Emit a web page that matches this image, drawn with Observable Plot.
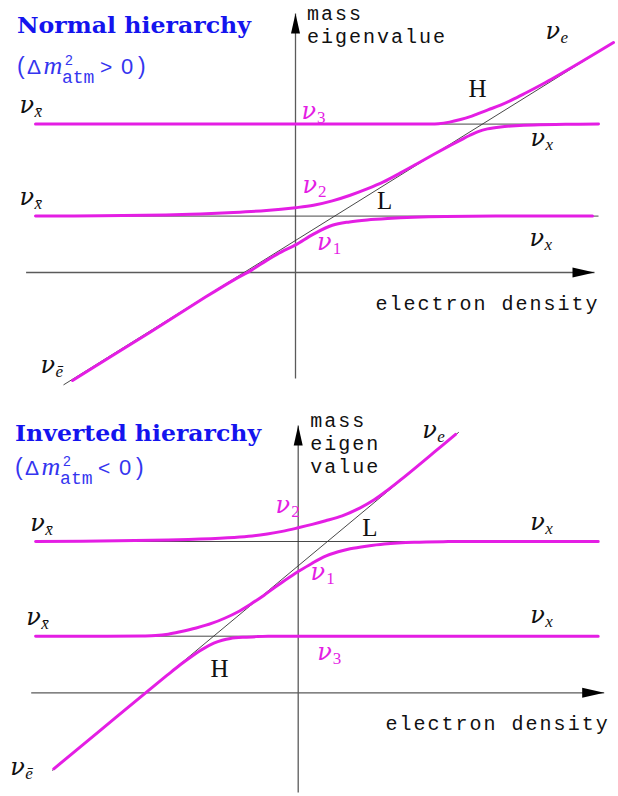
<!DOCTYPE html>
<html>
<head>
<meta charset="utf-8">
<script src="https://cdn.jsdelivr.net/npm/d3@7"></script>
<script src="https://cdn.jsdelivr.net/npm/@observablehq/plot@0.6"></script>
<style>
  body { margin: 0; background: #fff; }
  #chart svg { display: block; background: #fff; }
</style>
</head>
<body>
<div id="chart"></div>
<script>
// ---------- DATA (x = electron density, y = mass eigenvalue, arbitrary units) ----------

// Normal hierarchy: flavour levels and the nu_e line
const normalLevels = [7.42, 2.82];
const normalLevelSpan = [-13.0, 15.15];
const normalNueLine = [[-11.6, -5.62], [15.9, 11.5]];
const normalAxisX = [-13.47, 14.95];
const normalAxisY = [-5.3, 12.95];

// Normal hierarchy: matter eigenvalues
const normalNu1 = [[-11.15, -5.4], [-7.25, -2.97], [-4.5, -1.23], [-3.1, -0.38], [-2.2, 0.12], [-1.42, 0.62], [-0.7, 1.03], [0, 1.38], [0.9, 1.92], [1.84, 2.36], [2.7, 2.53], [3.58, 2.63], [4.6, 2.7], [5.9, 2.76], [7.5, 2.8], [10.0, 2.82], [14.85, 2.82]];
const normalNu2 = [[-13.0, 2.82], [-9.75, 2.84], [-6.5, 2.88], [-4.75, 2.93], [-3.1, 3.0], [-1.45, 3.1], [0, 3.24], [0.9, 3.36], [1.84, 3.58], [2.7, 3.85], [3.58, 4.18], [4.4, 4.53], [5.25, 4.98], [6.1, 5.45], [6.9, 5.9], [7.6, 6.28], [8.25, 6.62], [8.7, 6.85], [9.1, 7.03], [9.6, 7.18], [10.25, 7.28], [11.0, 7.34], [11.9, 7.38], [13.5, 7.41], [15.15, 7.42]];
const normalNu3 = [[-13.0, 7.42], [0, 7.42], [5.5, 7.42], [6.5, 7.425], [7.15, 7.44], [7.7, 7.52], [8.25, 7.65], [8.7, 7.78], [9.1, 7.93], [9.65, 8.14], [10.25, 8.37], [10.8, 8.62], [11.4, 8.92], [12.5, 9.5], [14.4, 10.6], [15.9, 11.5]];

// Inverted hierarchy: flavour levels and the nu_e line
const invertedLevels = [7.565, 2.83];
const invertedLevelSpan = [-13.13, 15.0];
const invertedNueLine = [[-12.3, -3.885], [8.03, 13.03]];
const invertedAxisX = [-13.35, 15.3];
const invertedAxisY = [-4.99, 13.37];

// Inverted hierarchy: matter eigenvalues
const invertedNu2 = [[-13.13, 7.565], [-9.0, 7.6], [-6.5, 7.64], [-4.9, 7.69], [-3.2, 7.77], [-2.3, 7.84], [-1.55, 7.94], [-0.8, 8.07], [0, 8.25], [0.7, 8.42], [1.37, 8.6], [2.2, 8.85], [3.1, 9.25], [3.8, 9.65], [4.45, 10.12], [5.1, 10.63], [5.8, 11.2], [6.8, 12.03], [7.87, 12.92]];
const invertedNu1 = [[-13.13, 2.83], [-10.0, 2.83], [-7.8, 2.84], [-7.13, 2.86], [-6.5, 2.93], [-5.9, 3.05], [-5.1, 3.24], [-4.3, 3.48], [-3.65, 3.74], [-3.05, 4.03], [-2.4, 4.42], [-1.72, 4.87], [-1.2, 5.25], [-0.8, 5.53], [-0.4, 5.8], [0, 6.06], [0.7, 6.48], [1.37, 6.83], [2.0, 7.05], [2.6, 7.2], [3.4, 7.33], [4.3, 7.44], [5.8, 7.53], [7.5, 7.56], [9.0, 7.565], [15.0, 7.565]];
const invertedNu3 = [[-12.22, -3.8], [-10.0, -1.97], [-7.63, 0], [-6.55, 0.88], [-5.9, 1.4], [-5.385, 1.78], [-4.8, 2.17], [-4.22, 2.48], [-3.8, 2.63], [-3.385, 2.72], [-2.7, 2.78], [-2.05, 2.81], [-1.5, 2.825], [-0.9, 2.83], [5.0, 2.83], [15.0, 2.83]];

// Labels (anchored in data coordinates)
const normalNuLabels = [
  {x: -13.8, y: 8.2, sub: "x̄", m: false},
  {x: -13.8, y: 3.6, sub: "x̄", m: false},
  {x: 12.5, y: 11.9, sub: "e", m: false},
  {x: 11.75, y: 6.55, sub: "x", m: false},
  {x: 11.7, y: 1.55, sub: "x", m: false},
  {x: -12.75, y: -4.8, sub: "ē", m: false},
  {x: 0.3, y: 7.9, sub: "3", m: true},
  {x: 0.35, y: 4.22, sub: "2", m: true},
  {x: 1.08, y: 1.35, sub: "1", m: true}
];
const normalLetters = [{x: 8.65, y: 9.17, t: "H"}, {x: 4.08, y: 3.57, t: "L"}];
const normalMono = [{x: 0.58, y: 12.43, t: "mass\neigenvalue"}, {x: 4.0, y: -1.5, t: "electron density"}];
const normalTitle = {x: -13.9, y1: 11.95, y2: 9.9, title: "Normal hierarchy", rel: ">", len: 234};

const invertedNuLabels = [
  {x: -13.4, y: 8.3, sub: "x̄", m: false},
  {x: -13.6, y: 3.6, sub: "x̄", m: false},
  {x: 11.6, y: 8.35, sub: "x", m: false},
  {x: 11.6, y: 3.7, sub: "x", m: false},
  {x: 6.2, y: 12.95, sub: "e", m: false},
  {x: -14.4, y: -3.9, sub: "ē", m: false},
  {x: -1.13, y: 9.2, sub: "2", m: true},
  {x: 0.62, y: 5.86, sub: "1", m: true},
  {x: 0.95, y: 1.85, sub: "3", m: true}
];
const invertedLetters = [{x: 3.2, y: 8.24, t: "L"}, {x: -4.38, y: 1.21, t: "H"}];
const invertedMono = [{x: 0.6, y: 12.5, t: "mass\neigen\nvalue"}, {x: 4.37, y: -1.49, t: "electron density"}];
const invertedTitle = {x: -14.13, y1: 12.57, y2: 10.865, title: "Inverted hierarchy", rel: "<", len: 246};

// ---------- STYLE ----------
const W = 618, H = 398;
const magenta = "#e41ee4";
const ink = "#111";
const titleBlue = "#1414ee";
const subBlue = "#3535ef";

function panel(cfg) {
  const thin = [
    ...cfg.levels.map(v => ({x1: cfg.span[0], y1: v, x2: cfg.span[1], y2: v})),
    {x1: cfg.nue[0][0], y1: cfg.nue[0][1], x2: cfg.nue[1][0], y2: cfg.nue[1][1]}
  ];
  const axes = [
    {x1: cfg.axisX[0], y1: 0, x2: cfg.axisX[1], y2: 0},
    {x1: 0, y1: cfg.axisY[0], x2: 0, y2: cfg.axisY[1]}
  ];
  const curve = data => Plot.line(data, {x: d => d[0], y: d => d[1], stroke: magenta, strokeWidth: 3, curve: "catmull-rom", strokeLinecap: "round", strokeLinejoin: "round"});
  const nuMark = (filter, fill) =>
    Plot.text(cfg.nuLabels, {filter, x: "x", y: "y", text: () => "ν", ariaLabel: d => "nu:" + d.sub, fill, dy: -3, fontFamily: "DejaVu Serif", fontStyle: "italic", fontSize: 24, textAnchor: "start"});
  const plot = Plot.plot({
    width: W, height: H, margin: 0,
    x: {domain: cfg.domainX, axis: null},
    y: {domain: cfg.domainY, axis: null},
    marks: [
      Plot.link(axes, {x1: "x1", y1: "y1", x2: "x2", y2: "y2", stroke: "#5a5a5a", strokeWidth: 1.3}),
      Plot.vector([{x: cfg.axisX[1], y: 0}], {x: "x", y: "y", rotate: 90, length: 22, r: 5, shape: "spike", anchor: "end", fill: "#000", stroke: "none"}),
      Plot.vector([{x: 0, y: cfg.axisY[1]}], {x: "x", y: "y", rotate: 0, length: 20, r: 4.5, shape: "spike", anchor: "end", fill: "#000", stroke: "none"}),
      Plot.link(thin, {x1: "x1", y1: "y1", x2: "x2", y2: "y2", stroke: "#333", strokeWidth: 0.9}),
      ...cfg.curves.map(curve),
      nuMark(d => !d.m, ink),
      nuMark(d => d.m, magenta),
      Plot.text(cfg.letters, {x: "x", y: "y", text: "t", fontFamily: "Liberation Serif", fontSize: 25, textAnchor: "start", fill: ink}),
      Plot.text(cfg.mono, {x: "x", y: "y", text: "t", lineHeight: 1.14, fontFamily: "Liberation Mono", fontSize: 20, textAnchor: "start", fill: ink})
    ]
  });
  const svg = d3.select(plot);
  // typewriter labels are widely spaced in the reference
  svg.selectAll('g[font-family="Liberation Mono"]').attr("letter-spacing", 2);
  // subscripts of the neutrino labels, inside the same text element
  svg.selectAll("text").each(function () {
    const lab = this.getAttribute("aria-label");
    if (!lab || !lab.startsWith("nu:")) return;
    const sub = lab.slice(3);
    const digit = /[0-9]/.test(sub);
    d3.select(this).append("tspan")
      .attr("font-family", "Liberation Serif")
      .attr("font-style", digit ? "normal" : "italic")
      .attr("font-size", 17)
      .attr("dx", digit ? 1 : 0.5)
      .attr("dy", 4)
      .text(sub);
  });
  // titles with super/subscripts
  const sx = plot.scale("x"), sy = plot.scale("y");
  const t = cfg.title;
  const X = sx.apply(t.x);
  svg.append("text")
    .attr("x", X).attr("y", sy.apply(t.y1)).attr("text-anchor", "start")
    .attr("font-family", "DejaVu Serif").attr("font-weight", "bold").attr("font-size", 23)
    .attr("fill", titleBlue).attr("textLength", t.len).attr("lengthAdjust", "spacingAndGlyphs")
    .text(t.title);
  const Y2 = sy.apply(t.y2);
  const line = svg.append("text").attr("y", Y2).attr("fill", subBlue).attr("text-anchor", "start")
    .attr("font-family", "Liberation Sans").attr("font-size", 23);
  line.append("tspan").attr("x", X).attr("y", Y2).text("(");
  line.append("tspan").attr("x", X + 10).attr("y", Y2).attr("font-size", 21).text("Δ");
  line.append("tspan").attr("x", X + 26.5).attr("y", Y2).attr("font-family", "Liberation Serif").attr("font-style", "italic").attr("font-size", 26).text("m");
  line.append("tspan").attr("x", X + 48).attr("y", Y2 - 9).attr("font-size", 14).text("2");
  line.append("tspan").attr("x", X + 45).attr("y", Y2 + 9).attr("font-family", "Liberation Mono").attr("font-size", 18).text("atm");
  line.append("tspan").attr("x", X + 83).attr("y", Y2).attr("font-size", 21).text(t.rel);
  line.append("tspan").attr("x", X + 104).attr("y", Y2).attr("font-size", 22).text("0");
  line.append("tspan").attr("x", X + 121).attr("y", Y2).text(")");
  return plot;
}

const topPanel = panel({
  domainX: [-14.75, 16.15], domainY: [-6.3, 13.6],
  levels: normalLevels, span: normalLevelSpan, nue: normalNueLine,
  axisX: normalAxisX, axisY: normalAxisY,
  curves: [normalNu1, normalNu2, normalNu3],
  nuLabels: normalNuLabels, letters: normalLetters, mono: normalMono, title: normalTitle
});
const bottomPanel = panel({
  domainX: [-14.885, 16.015], domainY: [-5.185, 14.715],
  levels: invertedLevels, span: invertedLevelSpan, nue: invertedNueLine,
  axisX: invertedAxisX, axisY: invertedAxisY,
  curves: [invertedNu1, invertedNu2, invertedNu3],
  nuLabels: invertedNuLabels, letters: invertedLetters, mono: invertedMono, title: invertedTitle
});
document.getElementById("chart").append(topPanel, bottomPanel);
</script>
</body>
</html>
